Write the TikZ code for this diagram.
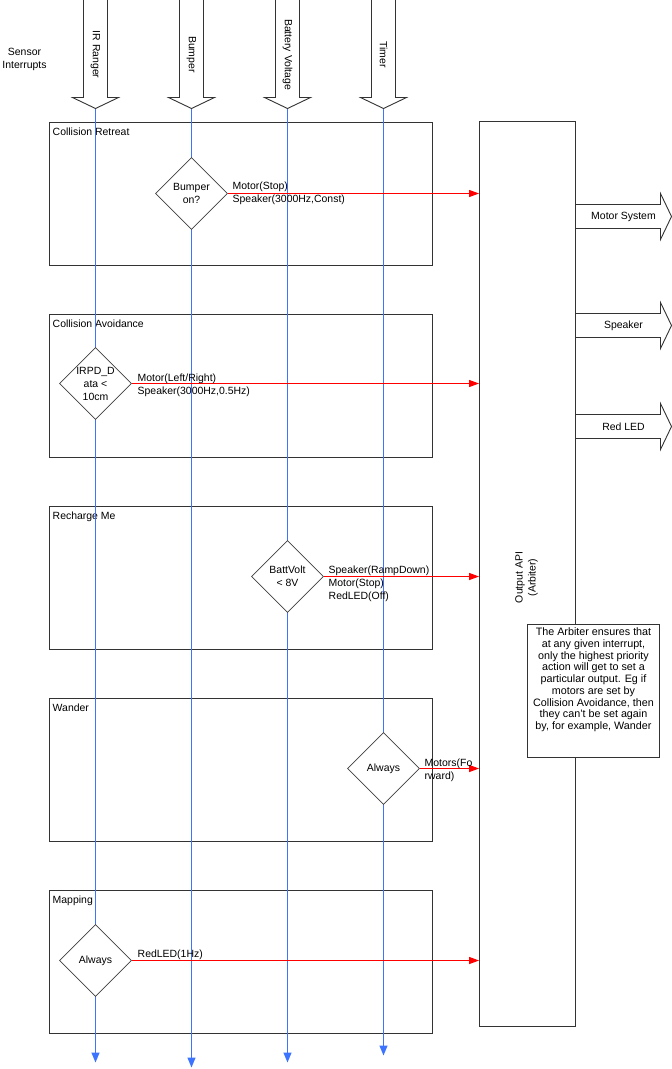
\documentclass[tikz,border=0pt]{standalone}
\usepackage{fontspec}
\setmainfont{Liberation Sans}
\usetikzlibrary{shapes.geometric,arrows.meta,positioning}
\definecolor{wire}{RGB}{60,115,255}

\tikzset{
  stagebox/.style={draw=black!80, line width=0.9bp, minimum width=383bp, minimum height=143bp, anchor=north west, inner sep=0pt},
  decision/.style={diamond, draw=black!75, fill=white, line width=0.7bp, minimum width=72bp, minimum height=72bp, inner sep=0pt},
  sensorline/.style={wire, line width=1.2bp, -{Triangle[length=10bp,width=8bp]}},
  actionline/.style={red, line width=1.1bp, -{Triangle[length=10bp,width=7bp]}},
  action/.style={anchor=north west, align=left, inner sep=0pt},
  blockarrow/.style={draw=black!80, fill=white, line width=0.9bp},
}

\begin{document}
\begin{tikzpicture}[x=1bp,y=-1bp,font=\fontsize{10.5}{13}\selectfont]
\useasboundingbox (0,0) rectangle (672,1069);
\begin{scope}[shift={(0.5,0.5)}]

% behaviour layers
\foreach \y/\name/\txt in {121/retreat/Collision Retreat,313/avoid/Collision Avoidance,505/recharge/Recharge Me,697/wander/Wander,889/mapping/Mapping}{
  \node[stagebox] (\name) at (48,\y) {};
  \node[anchor=north west,inner sep=0pt] (\name-title) at ([shift={(4,6.5)}]\name.north west) {\txt};
}

% output api
\node[draw=black!80,line width=0.9bp,minimum width=96bp,minimum height=905bp,inner sep=0pt] (api) at (527,573.5) {};
\node[rotate=90,align=center] (api-text) at (526,577) {Output API\\(Arbiter)};

\foreach \y/\name/\txt in {216/motor/Motor System,325/speaker/Speaker,426/led/Red LED}{
  \draw[blockarrow] (575,\y-12) -- (660,\y-12) -- (660,\y-23) -- (671,\y) -- (660,\y+23) -- (660,\y+12) -- (575,\y+12) -- cycle;
  \node (\name) at (623,\y) {\txt};
}

% sensor interrupts
\node[align=center] (sensors) at (24,59) {Sensor\\Interrupts};
\foreach \x/\name/\txt in {95/ir/IR Ranger,191/bump/Bumper,287/batt/Battery Voltage,383/timer/Timer}{
  \draw[blockarrow] (\x-12,-2) -- (\x-12,97) -- (\x-23,97) -- (\x,108) -- (\x+23,97) -- (\x+12,97) -- (\x+12,-2);
  \coordinate (\name-tip) at (\x,108);
  \node[rotate=-90] (\name-label) at (\x,54) {\txt};
}
\coordinate (ir-end) at (95,1062);
\coordinate (bump-end) at (191,1067);
\coordinate (batt-end) at (287,1062);
\coordinate (timer-end) at (383,1055);
\foreach \name in {ir,bump,batt,timer}
  \draw[sensorline] (\name-tip) -- (\name-end);

% decisions
\node[decision,label={[align=center]center:{Bumper\\on?}}] (bumpq) at (191,193) {};
\node[decision,label={[align=center]center:{IRPD\_D\\ata <\\10cm}}] (irq) at (95,383) {};
\node[decision,label={[align=center]center:{BattVolt\\< 8V}}] (battq) at (287,576) {};
\node[decision,label={[align=center]center:{Always}}] (wanderq) at (383,768) {};
\node[decision,label={[align=center]center:{Always}}] (mapq) at (95,960) {};

\foreach \q in {bumpq,irq,battq,wanderq,mapq}
  \draw[actionline] (\q.east) -- (\q.east -| api.west);

% actions
\node[action] (retreat-act) at (232,181) {Motor(Stop)\\Speaker(3000Hz,Const)};
\node[action] (avoid-act) at (137,373) {Motor(Left/Right)\\Speaker(3000Hz,0.5Hz)};
\node[action] (recharge-act) at (328,565) {Speaker(RampDown)\\Motor(Stop)\\RedLED(Off)};
\node[action] (wander-act) at (424,758) {Motors(Fo\\rward)};
\node[action] (mapping-act) at (137,949) {RedLED(1Hz)};

% arbiter note
\node[draw=black!80,fill=white,line width=0.9bp,minimum width=132bp,minimum height=133bp,inner sep=0pt] (note) at (593,690.5) {};
\node[anchor=north,align=center,inner sep=0pt,font=\fontsize{10.8}{11.8}\selectfont] (note-text) at ([yshift=-3.5bp]note.north) {The Arbiter ensures that\\at any given interrupt,\\only the highest priority\\action will get to set a\\particular output. Eg if\\motors are set by\\Collision Avoidance, then\\they can’t be set again\\by, for example, Wander};
\end{scope}
\end{tikzpicture}
\end{document}
